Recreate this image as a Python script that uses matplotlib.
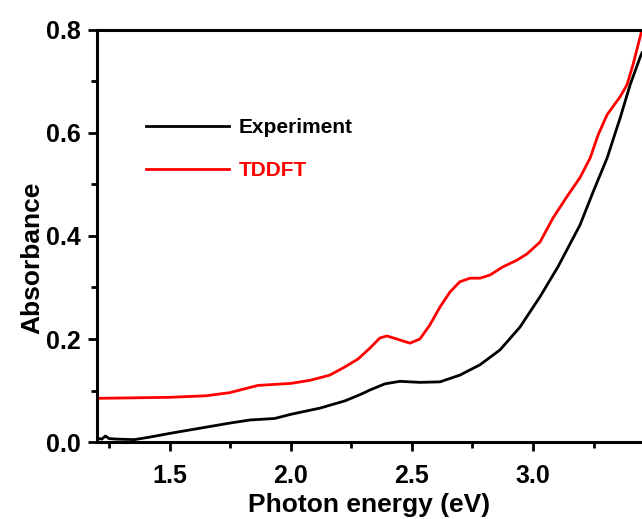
import numpy as np
import matplotlib
matplotlib.use("Agg")
import matplotlib.pyplot as plt
from matplotlib.ticker import MultipleLocator, FormatStrFormatter

# values
exp_energy = [1.20, 1.22, 1.235, 1.25, 1.28, 1.355, 1.42, 1.50, 1.624, 1.748,
              1.831, 1.934, 2.00, 2.12, 2.223, 2.29, 2.326, 2.388, 2.45, 2.533,
              2.616, 2.698, 2.781, 2.864, 2.946, 3.029, 3.103, 3.194, 3.248, 3.306,
              3.36, 3.401, 3.442, 3.45]
exp_abs = [0.008, 0.006, 0.012, 0.007, 0.006, 0.005, 0.01, 0.017, 0.027, 0.037,
           0.043, 0.046, 0.054, 0.066, 0.08, 0.093, 0.101, 0.113, 0.118, 0.116,
           0.117, 0.13, 0.15, 0.179, 0.223, 0.282, 0.34, 0.421, 0.485, 0.551,
           0.629, 0.693, 0.746, 0.755]

tddft_energy = [1.20, 1.35, 1.50, 1.65, 1.748, 1.864, 2.00, 2.08, 2.161, 2.22,
                2.277, 2.326, 2.368, 2.397, 2.438, 2.492, 2.533, 2.574, 2.616, 2.657,
                2.698, 2.74, 2.781, 2.822, 2.876, 2.934, 2.975, 3.029, 3.083, 3.14,
                3.194, 3.236, 3.269, 3.306, 3.36, 3.388, 3.413, 3.45]
tddft_abs = [0.085, 0.086, 0.087, 0.09, 0.096, 0.11, 0.114, 0.12, 0.13, 0.145,
             0.161, 0.182, 0.202, 0.206, 0.20, 0.192, 0.20, 0.227, 0.262, 0.291,
             0.311, 0.318, 0.318, 0.324, 0.34, 0.353, 0.365, 0.388, 0.435, 0.476,
             0.513, 0.551, 0.596, 0.635, 0.67, 0.693, 0.732, 0.80]

plt.rcParams['font.family'] = ['Liberation Sans', 'DejaVu Sans']
plt.rcParams['font.weight'] = 'bold'


def main():
    fig = plt.figure(figsize=(6.42, 5.19), dpi=100)
    ax = fig.add_axes([0.151, 0.148, 0.849, 0.795])

    ax.plot(exp_energy, exp_abs, color='black', lw=2, label="Experiment",
            solid_joinstyle='round')
    ax.plot(tddft_energy, tddft_abs, color='red', lw=2, label="TDDFT",
            solid_joinstyle='round')

    ax.set_xlim(1.2, 3.45)
    ax.set_ylim(0.0, 0.8)
    ax.xaxis.set_major_locator(MultipleLocator(0.5))
    ax.xaxis.set_minor_locator(MultipleLocator(0.25))
    ax.yaxis.set_major_locator(MultipleLocator(0.2))
    ax.yaxis.set_minor_locator(MultipleLocator(0.1))
    ax.xaxis.set_major_formatter(FormatStrFormatter('%.1f'))
    ax.yaxis.set_major_formatter(FormatStrFormatter('%.1f'))

    for s in ['left', 'bottom', 'top']:
        ax.spines[s].set_linewidth(2.2)
    ax.spines['right'].set_visible(False)
    ax.tick_params(which='major', direction='out', length=6.5, width=2, labelsize=18, pad=5)
    ax.tick_params(which='minor', direction='out', length=4, width=2)
    ax.tick_params(axis='x', which='major', pad=9)

    ax.set_xlabel("Photon energy (eV)", fontsize=19, fontweight='bold', labelpad=4)
    ax.set_ylabel("Absorbance", fontsize=19, fontweight='bold')
    ax.yaxis.set_label_coords(-0.097, 0.447)

    leg = ax.legend(loc='upper left', bbox_to_anchor=(0.09, 0.785), frameon=False,
                    fontsize=15, handlelength=4.0, handletextpad=0.45,
                    labelspacing=1.15, borderpad=0, borderaxespad=0)
    for text, line in zip(leg.get_texts(), leg.get_lines()):
        text.set_color(line.get_color())

    plt.savefig("out.png", dpi=100)


if __name__ == "__main__":
    main()
